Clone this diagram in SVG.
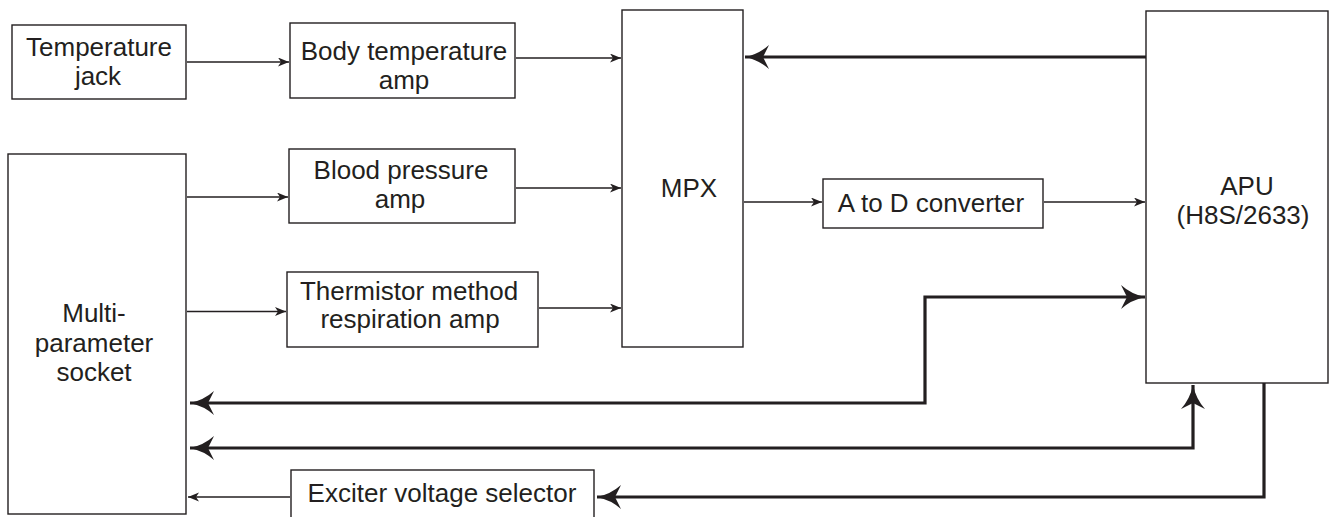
<svg xmlns="http://www.w3.org/2000/svg" width="1336" height="517" viewBox="0 0 1336 517">
<style>
.box{fill:#fff;stroke:#231f20;stroke-width:1.4}
.t{font-family:"Liberation Sans",Arial,sans-serif;font-size:26px;fill:#231f20;text-anchor:middle}
.thin{fill:none;stroke:#231f20;stroke-width:1.3;marker-end:url(#ah)}
.thick{fill:none;stroke:#231f20;stroke-width:3.2}
</style>
<defs>
<marker id="ah" markerUnits="userSpaceOnUse" markerWidth="13" markerHeight="11" refX="11" refY="4.5" orient="auto"><path d="M0,0 L11,4.5 L0,9 L3,4.5 Z" fill="#231f20"/></marker>
<marker id="AH" markerUnits="userSpaceOnUse" markerWidth="26" markerHeight="26" refX="24" refY="12" orient="auto-start-reverse"><path d="M0,0 Q10,9 24,12 Q10,15 0,24 L6,12 Z" fill="#231f20"/></marker>
</defs>
<g id="temperature-jack"><rect class="box" x="12" y="25" width="174" height="74"/><text class="t" x="99" y="56">Temperature</text><text class="t" x="98" y="85">jack</text></g>
<g id="body-temp-amp"><rect class="box" x="290" y="23" width="225" height="75"/><text class="t" x="404" y="60">Body temperature</text><text class="t" x="404" y="89">amp</text></g>
<g id="mpx"><rect class="box" x="622" y="10" width="121" height="337"/><text class="t" x="689" y="197">MPX</text></g>
<g id="apu"><rect class="box" x="1146" y="11" width="182" height="372"/><text class="t" x="1247" y="195">APU</text><text class="t" x="1243" y="224">(H8S/2633)</text></g>
<g id="blood-pressure-amp"><rect class="box" x="289" y="149" width="226" height="74"/><text class="t" x="401" y="179">Blood pressure</text><text class="t" x="400" y="208">amp</text></g>
<g id="thermistor-amp"><rect class="box" x="287" y="272" width="251" height="75"/><text class="t" x="409" y="300">Thermistor method</text><text class="t" x="410" y="328">respiration amp</text></g>
<g id="a-to-d"><rect class="box" x="823" y="179" width="220" height="49"/><text class="t" x="931" y="212">A to D converter</text></g>
<g id="multi-parameter-socket"><rect class="box" x="8" y="154" width="178" height="360"/><text class="t" x="94" y="322">Multi-</text><text class="t" x="94" y="352">parameter</text><text class="t" x="94" y="381">socket</text></g>
<g id="exciter"><rect class="box" x="291" y="470" width="303" height="52"/><text class="t" x="442" y="502">Exciter voltage selector</text></g>
<g id="connectors">
<path class="thin" d="M187,62 L289,62"/>
<path class="thin" d="M516,58 L621,58"/>
<path class="thin" d="M187,197 L288,197"/>
<path class="thin" d="M516,188 L621,188"/>
<path class="thin" d="M187,311.5 L286,311.5"/>
<path class="thin" d="M539,308 L621,308"/>
<path class="thin" d="M744,202 L822,202"/>
<path class="thin" d="M1044,202 L1145,202"/>
<path class="thin" d="M290,497 L188,497"/>
<path class="thick" d="M1146,57 L745,57" marker-end="url(#AH)"/>
<path class="thick" d="M190,403 L925,403 L925,297 L1145,297" marker-start="url(#AH)" marker-end="url(#AH)"/>
<path class="thick" d="M190,448 L1193,448 L1193,385" marker-start="url(#AH)" marker-end="url(#AH)"/>
<path class="thick" d="M1264,383 L1264,497 L597,497" marker-end="url(#AH)"/>
</g>
</svg>
